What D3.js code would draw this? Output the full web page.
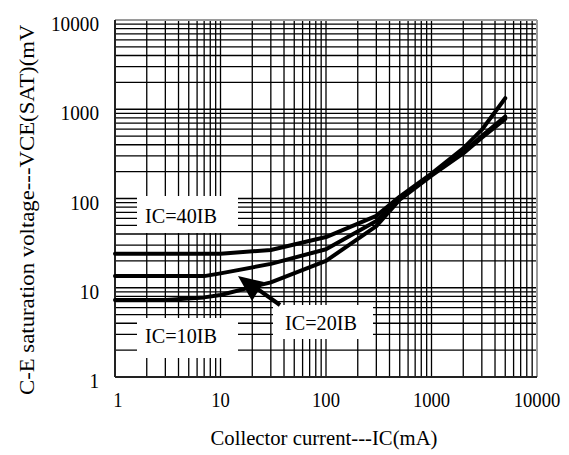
<!DOCTYPE html>
<html><head><meta charset="utf-8">
<script src="https://cdn.jsdelivr.net/npm/d3@7"></script>
<style>body{margin:0;background:#fff}svg{display:block}</style>
</head><body>
<script>
const xTicks = [1, 10, 100, 1000, 10000];
const yTicks = [1, 10, 100, 1000, 10000];
const ic = [1, 3, 7, 10, 30, 100, 300, 500, 1000, 2000, 3000, 5000];
const vce40 = [24, 24, 24, 24, 26.5, 37, 64, 105, 190, 365, 590, 1330];
const vce20 = [13.5, 13.5, 13.5, 14.5, 18.5, 27, 56, 100, 185, 330, 500, 830];
const vce10 = [7.3, 7.3, 7.8, 8.3, 11.5, 20, 49, 97, 180, 320, 480, 780];
const seriesNames = ["IC=40IB", "IC=20IB", "IC=10IB"];
const xTitle = "Collector current---IC(mA)";
const yTitle = "C-E saturation voltage---VCE(SAT)(mV)";

const W = 569, H = 455;
const m = {l: 115, r: 537, t: 20, b: 377};
const svg = d3.select("body").append("svg").attr("width", W).attr("height", H);
const x = d3.scaleLog().domain([1, 10000]).range([m.l, m.r]);
const y = d3.scaleLog().domain([1, 10000]).range([m.b, m.t]);
const font = "'Liberation Serif', 'Times New Roman', serif";

svg.append("defs").append("clipPath").attr("id", "yclip")
  .append("rect").attr("x", 0).attr("y", 25).attr("width", 60).attr("height", 420);

// grid
const minor = [];
for (let d = 1; d < 10000; d *= 10) for (let k = 1; k <= 9; k++) minor.push(d * k);
minor.push(10000);
const g = svg.append("g");
g.selectAll(".vx").data(minor).enter().append("line")
  .attr("x1", d => x(d)).attr("x2", d => x(d)).attr("y1", m.t).attr("y2", m.b)
  .attr("stroke", "#000").attr("stroke-width", 1.3);
g.selectAll(".hy").data(minor).enter().append("line")
  .attr("y1", d => y(d)).attr("y2", d => y(d)).attr("x1", m.l).attr("x2", m.r)
  .attr("stroke", "#000").attr("stroke-width", 1.3);

// frame
svg.append("line").attr("x1", m.l).attr("x2", m.r).attr("y1", m.t).attr("y2", m.t).attr("stroke", "#9a9a9a").attr("stroke-width", 2);
svg.append("line").attr("x1", m.r).attr("x2", m.r).attr("y1", m.t).attr("y2", m.b).attr("stroke", "#9a9a9a").attr("stroke-width", 2);
svg.append("line").attr("x1", m.l).attr("x2", m.r).attr("y1", m.b).attr("y2", m.b).attr("stroke", "#222").attr("stroke-width", 2);
svg.append("line").attr("x1", m.l).attr("x2", m.l).attr("y1", m.t).attr("y2", m.b).attr("stroke", "#222").attr("stroke-width", 2);

// curves
const line = d3.line().x(d => x(d[0])).y(d => y(d[1])).curve(d3.curveLinear);
[vce40, vce20, vce10].forEach(vals => {
  svg.append("path").attr("d", line(ic.map((c, i) => [c, vals[i]])))
    .attr("fill", "none").attr("stroke", "#000").attr("stroke-width", 4)
    .attr("stroke-linejoin", "round").attr("stroke-linecap", "round");
});

// label boxes
const boxes = [
  {t: seriesNames[0], x: 137, y: 196, w: 101, h: 37, tx: 145, ty: 223},
  {t: seriesNames[2], x: 137, y: 318, w: 101, h: 40, tx: 145, ty: 343},
  {t: seriesNames[1], x: 273, y: 305, w: 100, h: 34, tx: 285, ty: 330}
];
boxes.forEach(b => {
  svg.append("rect").attr("x", b.x).attr("y", b.y).attr("width", b.w).attr("height", b.h).attr("fill", "#fff");
  svg.append("text").attr("x", b.tx).attr("y", b.ty).text(b.t)
    .attr("font-family", font).attr("font-size", 22).attr("fill", "#000")
    .attr("textLength", 72).attr("lengthAdjust", "spacingAndGlyphs");
});

// arrow
svg.append("line").attr("x1", 280).attr("y1", 305).attr("x2", 252).attr("y2", 285)
  .attr("stroke", "#000").attr("stroke-width", 4);
svg.append("path").attr("d", "M238,276 L264,282 L252,301 Z").attr("fill", "#000");

// tick labels
svg.selectAll(".xl").data(xTicks).enter().append("text")
  .attr("x", d => x(d) + (d === 1 ? 3 : 0)).attr("y", 407).attr("text-anchor", "middle")
  .attr("font-family", font).attr("font-size", 22)
  .attr("textLength", d => String(d).length * 9.3).attr("lengthAdjust", "spacingAndGlyphs")
  .text(d => d);
svg.selectAll(".yl").data(yTicks).enter().append("text")
  .attr("x", 99).attr("y", d => y(d) + 11).attr("text-anchor", "end")
  .attr("font-family", font).attr("font-size", 22)
  .attr("textLength", d => String(d).length * 9.6).attr("lengthAdjust", "spacingAndGlyphs")
  .text(d => d);

// titles
svg.append("text").attr("x", 324).attr("y", 445).attr("text-anchor", "middle")
  .attr("font-family", font).attr("font-size", 22)
  .attr("textLength", 227).attr("lengthAdjust", "spacingAndGlyphs").text(xTitle);
svg.append("g").attr("clip-path", "url(#yclip)").append("text")
  .attr("transform", "translate(34,395) rotate(-90)")
  .attr("text-anchor", "start").attr("font-family", font).attr("font-size", 22)
  .attr("textLength", 378).attr("lengthAdjust", "spacingAndGlyphs").text(yTitle);
</script>
</body></html>
